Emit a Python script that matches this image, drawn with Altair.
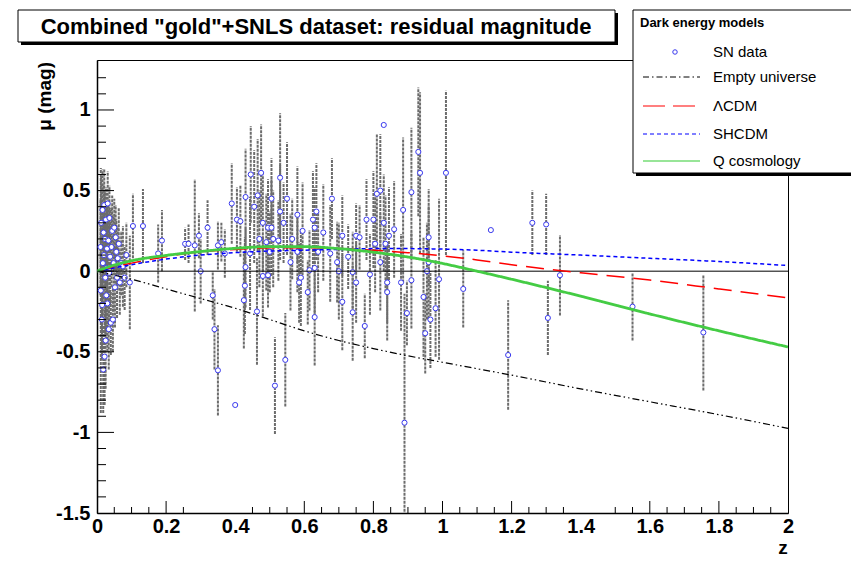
import altair as alt
import pandas as pd

# ---------------- SN data (z, residual mu, error) ----------------
z_near = [0.010, 0.011, 0.012, 0.014, 0.015, 0.016, 0.017, 0.018, 0.019, 0.020,
          0.021, 0.022, 0.023, 0.024, 0.025, 0.026, 0.027, 0.028, 0.029, 0.030,
          0.031, 0.033, 0.034, 0.035, 0.036, 0.038, 0.040, 0.042, 0.044, 0.046,
          0.048, 0.050, 0.052, 0.054, 0.056, 0.058, 0.060, 0.063, 0.066, 0.070,
          0.075, 0.080, 0.085, 0.095, 0.104, 0.133]
mu_near = [0.15, -0.12, 0.30, -0.30, -0.21, 0.38, 0.05, -0.61, 0.24, 0.10,
           0.41, -0.53, 0.20, -0.04, -0.43, 0.32, -0.15, 0.02, 0.14, -0.20,
           0.42, 0.19, -0.36, -0.01, 0.33, 0.09, -0.32, 0.15, 0.25, -0.30,
           0.05, 0.27, -0.10, 0.21, 0.12, -0.04, 0.08, 0.17, -0.07, 0.05,
           0.03, -0.04, 0.10, -0.07, 0.28, 0.28]
err_near = [0.30, 0.76, 0.30, 0.25, 0.30, 0.25, 0.35, 0.27, 0.30, 0.30,
            0.22, 0.30, 0.30, 0.35, 0.30, 0.20, 0.30, 0.35, 0.28, 0.30,
            0.20, 0.25, 0.25, 0.30, 0.20, 0.30, 0.20, 0.25, 0.22, 0.20,
            0.30, 0.18, 0.25, 0.20, 0.20, 0.25, 0.20, 0.22, 0.20, 0.20,
            0.25, 0.20, 0.20, 0.29, 0.20, 0.23]

z_mid = [0.177, 0.188, 0.255, 0.265, 0.283, 0.295, 0.300, 0.320, 0.335, 0.340,
         0.350, 0.350, 0.360, 0.370, 0.390, 0.400, 0.405, 0.415, 0.425, 0.428,
         0.430, 0.430, 0.443, 0.445, 0.455, 0.463, 0.465, 0.470, 0.475, 0.480,
         0.480, 0.490, 0.495, 0.495, 0.500]
mu_mid = [0.11, 0.19, 0.17, 0.17, 0.16, 0.22, 0.00, 0.27, -0.15, -0.36,
          -0.615, 0.16, 0.18, 0.11, 0.42, -0.83, 0.32, 0.31, -0.18, -0.09,
          0.025, 0.46, 0.11, 0.60, 0.40, -0.25, 0.47, 0.20, 0.61, -0.03,
          0.30, 0.18, 0.27, -0.025, 0.12]
err_mid = [0.18, 0.19, 0.10, 0.12, 0.41, 0.14, 0.20, 0.17, 0.15, 0.25,
           0.28, 0.15, 0.12, 0.15, 0.25, 0.0, 0.20, 0.22, 0.30, 0.30,
           0.25, 0.30, 0.35, 0.30, 0.35, 0.33, 0.35, 0.30, 0.30, 0.25,
           0.30, 0.30, 0.30, 0.20, 0.25]

z_deep = [0.505, 0.505, 0.510, 0.515, 0.525, 0.530, 0.530, 0.540, 0.545, 0.550,
          0.560, 0.565, 0.580, 0.580, 0.585, 0.590, 0.595, 0.610, 0.615, 0.625,
          0.630, 0.630, 0.630, 0.635, 0.640, 0.655, 0.675, 0.680, 0.695, 0.700,
          0.710, 0.710, 0.727, 0.740, 0.740, 0.750, 0.750, 0.760, 0.775, 0.780,
          0.790, 0.800, 0.805, 0.810, 0.820, 0.820, 0.830, 0.830, 0.835, 0.840,
          0.840, 0.845, 0.860, 0.880, 0.886, 0.890, 0.897, 0.910, 0.910, 0.930,
          0.935, 0.945, 0.950, 0.955, 0.960, 0.960, 0.965, 0.980, 0.990]
mu_deep = [0.45, 0.27, 0.20, -0.71, 0.19, 0.58, 0.37, 0.30, -0.55, 0.45,
           0.056, 0.20, 0.35, 0.12, -0.07, -0.04, 0.25, -0.13, 0.006, 0.32,
           0.27, 0.02, -0.285, 0.37, 0.12, 0.24, 0.11, 0.45, 0.056, 0.00,
           0.22, -0.19, 0.09, -0.006, -0.255, 0.22, -0.07, 0.21, -0.34, 0.32,
           -0.02, 0.32, 0.17, 0.48, 0.50, 0.056, 0.907, 0.30, 0.17, -0.07,
           -0.13, 0.22, 0.26, -0.07, 0.38, -0.94, -0.26, 0.49, -0.056, 0.74,
           0.61, -0.16, -0.385, 0.00, 0.21, 0.056, -0.30, -0.23, -0.05]
err_deep = [0.25, 0.30, 0.30, 0.30, 0.25, 0.40, 0.30, 0.25, 0.29, 0.35,
            0.30, 0.25, 0.30, 0.25, 0.25, 0.30, 0.30, 0.20, 0.25, 0.30,
            0.25, 0.30, 0.30, 0.30, 0.25, 0.30, 0.30, 0.25, 0.25, 0.30,
            0.25, 0.30, 0.20, 0.25, 0.30, 0.20, 0.25, 0.20, 0.20, 0.25,
            0.25, 0.30, 0.30, 0.37, 0.35, 0.30, 0.0, 0.30, 0.30, 0.25,
            0.30, 0.30, 0.30, 0.30, 0.45, 0.80, 0.20, 0.40, 0.30, 0.40,
            0.50, 0.37, 0.25, 0.30, 0.30, 0.35, 0.30, 0.30, 0.50]

z_far = [1.010, 1.060, 1.140, 1.190, 1.260, 1.300, 1.305, 1.340, 1.550, 1.755]
mu_far = [0.61, -0.11, 0.255, -0.52, 0.30, 0.29, -0.29, -0.025, -0.22, -0.38]
err_far = [0.51, 0.24, 0.0, 0.34, 0.20, 0.19, 0.23, 0.25, 0.21, 0.36]

# ---------------- model curves ----------------
z_model = [0, 0.05, 0.1, 0.2, 0.3, 0.4, 0.5, 0.6, 0.7, 0.8, 0.9, 1.0, 1.1, 1.2, 1.4, 1.6, 1.8, 2.0]
empty_model = [0, -0.025, -0.05, -0.11, -0.17, -0.23, -0.30, -0.37, -0.43, -0.48, -0.525,
               -0.565, -0.605, -0.645, -0.73, -0.81, -0.89, -0.975]
lcdm_model = [0, 0.028, 0.05, 0.09, 0.12, 0.135, 0.145, 0.145, 0.14, 0.13, 0.115,
              0.095, 0.07, 0.04, -0.01, -0.055, -0.11, -0.165]
shcdm_model = [0, 0.02, 0.04, 0.075, 0.10, 0.115, 0.125, 0.13, 0.135, 0.14, 0.14,
               0.137, 0.13, 0.118, 0.10, 0.08, 0.06, 0.035]
q_model = [0, 0.038, 0.065, 0.098, 0.122, 0.142, 0.152, 0.152, 0.14, 0.118, 0.088,
           0.048, 0.0, -0.05, -0.155, -0.265, -0.37, -0.47]

# ---------------- ticks ----------------
x_labels = [0, 0.2, 0.4, 0.6, 0.8, 1, 1.2, 1.4, 1.6, 1.8, 2]
x_major_ticks = [0.2, 0.6, 0.8, 1.0, 1.2, 1.6, 1.8]
x_minor_ticks = [0.05, 0.1, 0.15, 0.25, 0.45, 0.5, 0.55, 0.65, 0.7, 0.75, 0.85, 0.9,
                 0.95, 1.05, 1.1, 1.15, 1.25, 1.3, 1.35, 1.5, 1.55, 1.65, 1.7, 1.75,
                 1.85, 1.9, 1.95]
y_labels = [-1.5, -1, -0.5, 0, 0.5, 1]
y_major_ticks = [-1, -0.5, 0, 0.5, 1]
y_minor_ticks = [-1.4, -1.3, -1.2, -1.1, -0.9, -0.8, -0.7, -0.6, -0.4, -0.3, -0.2, -0.1,
                 0.1, 0.2, 0.3, 0.4, 0.6, 0.7, 0.8, 0.9, 1.1, 1.2]

legend_names = ["SN data", "Empty universe", "ΛCDM", "SHCDM", "Q cosmology"]

# ---------------- build tables ----------------
sn = pd.DataFrame({
    "z": z_near + z_mid + z_deep + z_far,
    "mu": mu_near + mu_mid + mu_deep + mu_far,
    "err": err_near + err_mid + err_deep + err_far,
})
sn["lo"] = sn["mu"] - sn["err"]
sn["hi"] = sn["mu"] + sn["err"]

W, H = 691, 453
FONT = "Liberation Sans"
xs = alt.Scale(domain=[0, 2], nice=False, zero=False)
ys = alt.Scale(domain=[-1.5, 1.31], nice=False, zero=False)

xaxis = alt.Axis(values=x_labels, labelExpr="'' + datum.value", labelFont=FONT,
                 labelFontSize=20, labelFontWeight="bold", labelColor="black",
                 labelPadding=3, labelFlush=False, labelOverlap=False,
                 ticks=False, grid=False, domainColor="black", domainWidth=1.5,
                 title=None)
yaxis = alt.Axis(values=y_labels, labelExpr="'' + datum.value", labelFont=FONT,
                 labelFontSize=20, labelFontWeight="bold", labelColor="black",
                 labelPadding=7, labelFlush=False, labelOverlap=False,
                 ticks=False, grid=False, domainColor="black", domainWidth=1.5,
                 title=None)

bars = alt.Chart(sn).mark_rule(color="#6c6c6c", strokeWidth=2, strokeDash=[3, 1], clip=True).encode(
    x=alt.X("z:Q", scale=xs, axis=xaxis),
    y=alt.Y("lo:Q", scale=ys, axis=yaxis),
    y2="hi:Q",
)
pts = alt.Chart(sn).mark_circle(size=26, fill="white", stroke="#3a3aee", strokeWidth=1,
                                opacity=1, clip=True).encode(
    x=alt.X("z:Q", scale=xs),
    y=alt.Y("mu:Q", scale=ys),
)

zero_df = pd.DataFrame({"y": [0]})
zero_line = alt.Chart(zero_df).mark_rule(color="black", strokeWidth=1).encode(
    y=alt.Y("y:Q", scale=ys))

models = [
    (empty_model, "black", [7, 3, 1.5, 3, 1.5, 3], 1.2),
    (lcdm_model, "#ff0000", [18, 9], 1.5),
    (shcdm_model, "#0000ff", [4, 3], 1.5),
    (q_model, "#44cc44", [1, 0], 2.8),
]
model_layers = []
for vals, col, dash, sw in models:
    df = pd.DataFrame({"z": z_model, "mu": vals})
    model_layers.append(
        alt.Chart(df).mark_line(color=col, strokeDash=dash, strokeWidth=sw,
                                interpolate="monotone", clip=True).encode(
            x=alt.X("z:Q", scale=xs), y=alt.Y("mu:Q", scale=ys)))

# inward ticks
def xticks(vals, length):
    return alt.Chart(pd.DataFrame({"t": vals})).mark_rule(color="black", strokeWidth=1).encode(
        x=alt.X("t:Q", scale=xs), y=alt.value(H), y2=alt.value(H - length))

def yticks(vals, length):
    return alt.Chart(pd.DataFrame({"t": vals})).mark_rule(color="black", strokeWidth=1).encode(
        y=alt.Y("t:Q", scale=ys), x=alt.value(0), x2=alt.value(length))

one = pd.DataFrame({"k": [0]})

def box(x1, y1, x2, y2, fill, stroke=None):
    kw = dict(fill=fill)
    if stroke:
        kw.update(stroke=stroke, strokeWidth=1)
    return alt.Chart(one).mark_rect(**kw).encode(
        x=alt.value(x1), x2=alt.value(x2), y=alt.value(y1), y2=alt.value(y2))

def label(txt, x, y, size, weight="normal", align="left", angle=0, baseline="middle"):
    kw = dict(text=txt, font=FONT, fontSize=size, fontWeight=weight, align=align,
              baseline=baseline, color="black")
    if angle:
        kw["angle"] = angle
    return alt.Chart(one).mark_text(**kw).encode(x=alt.value(x), y=alt.value(y))

def sample(y, col, dash, sw):
    return alt.Chart(one).mark_rule(color=col, strokeDash=dash, strokeWidth=sw).encode(
        x=alt.value(546), x2=alt.value(603), y=alt.value(y))

# title box
title_layers = [
    box(-76, -47, 521, -15, "black"),
    box(-79, -50, 518, -18, "white", "black"),
    label('Combined "gold"+SNLS dataset: residual magnitude', 219, -33, 22, "bold", "center"),
]
# legend box
entry_y = [-8, 17, 46, 74, 101]
legend_layers = [
    box(539, -47, 800, 116, "black"),
    box(536, -50, 800, 113, "white", "black"),
    label("Dark energy models", 543, -37, 13, "bold"),
    alt.Chart(one).mark_circle(size=20, fill="white", stroke="#3a3aee", strokeWidth=1, opacity=1).encode(
        x=alt.value(578), y=alt.value(entry_y[0])),
    sample(entry_y[1], "black", [6, 3, 1.5, 3], 1),
    sample(entry_y[2], "#ff0000", [22, 8], 1.2),
    sample(entry_y[3], "#0000ff", [4, 3], 1.2),
    sample(entry_y[4], "#33cc33", [1, 0], 1.2),
]
for name, yy in zip(legend_names, entry_y):
    legend_layers.append(label(name, 616, yy, 15))

axis_titles = [
    label("μ (mag)", -52, 2, 19, "bold", "right", 270),
    label("z", 686, 488, 19, "bold", "center"),
]

chart = alt.layer(
    bars, pts, zero_line, *model_layers,
    xticks(x_major_ticks, 12), xticks(x_minor_ticks, 6),
    yticks(y_major_ticks, 17), yticks(y_minor_ticks, 9),
    *title_layers, *legend_layers, *axis_titles,
).properties(
    width=W, height=H,
    padding={"left": 89, "top": 52, "right": 63, "bottom": 44},
    autosize=alt.AutoSizeParams(type="none"),
    background="white",
).configure_view(stroke="black", strokeWidth=1)

chart.save("out.html", embed_options={"renderer": "svg", "actions": False})
